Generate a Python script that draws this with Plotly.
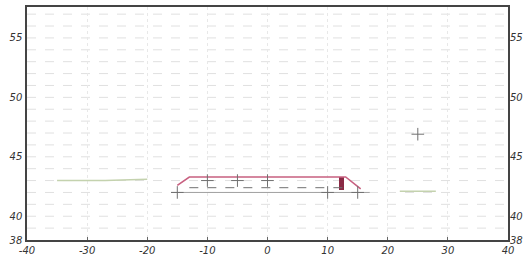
import plotly.graph_objects as go

# Data
red_x = [-15.0, -13.0, 13.0, 15.5]
red_y = [42.6, 43.3, 43.3, 42.3]
dash_x = [-13.0, 13.0]
dash_y = [42.4, 42.4]
grey_x = [-16.0, 17.0]
grey_y = [42.0, 42.0]
green_left_x = [-35.0, -27.0, -20.0]
green_left_y = [43.0, 43.0, 43.1]
green_right_x = [22.0, 28.0]
green_right_y = [42.1, 42.1]
cross_x = [-15.0, -10.0, -5.0, 0.0, 10.0, 15.0, 25.0]
cross_y = [42.0, 43.0, 43.0, 43.0, 42.0, 42.0, 46.9]
bar_x = [12.3]
bar_base = [42.2]
bar_h = [1.1]
x_ticks = [-40, -30, -20, -10, 0, 10, 20, 30, 40]
y_ticks = [38, 40, 45, 50, 55]

fig = go.Figure()
fig.add_trace(go.Scatter(x=green_left_x, y=green_left_y, mode="lines",
                         line=dict(color="#c4d2ae", width=1.5), showlegend=False))
fig.add_trace(go.Scatter(x=green_right_x, y=green_right_y, mode="lines",
                         line=dict(color="#c4d2ae", width=1.5), showlegend=False))
fig.add_trace(go.Scatter(x=grey_x, y=grey_y, mode="lines",
                         line=dict(color="#a0a0a0", width=1), showlegend=False))
fig.add_trace(go.Scatter(x=dash_x, y=dash_y, mode="lines",
                         line=dict(color="#707070", width=1, dash="dash"), showlegend=False))
fig.add_trace(go.Scatter(x=red_x, y=red_y, mode="lines",
                         line=dict(color="#c86080", width=1.6), showlegend=False))
fig.add_trace(go.Bar(x=bar_x, y=bar_h, base=bar_base, width=0.8,
                     marker=dict(color="#8a2a45", line=dict(width=0)), showlegend=False))
fig.add_trace(go.Scatter(x=cross_x, y=cross_y, mode="markers",
                         marker=dict(symbol="cross-thin", size=9, line=dict(color="#707070", width=1)),
                         showlegend=False))
# right-side y axis duplicate
fig.add_trace(go.Scatter(x=[None], y=[None], yaxis="y2", showlegend=False))

tickfont = dict(family="DejaVu Sans", size=10, color="#333333")
fig.update_layout(
    width=531, height=261,
    margin=dict(l=27, r=23, t=5, b=17),
    paper_bgcolor="white", plot_bgcolor="white",
    xaxis=dict(range=[-40, 40], tickvals=x_ticks, ticktext=[f"<i>{v}</i>" for v in x_ticks],
               showgrid=True, gridcolor="#e8e8e8", griddash="dot", gridwidth=1,
               zeroline=False, showline=True, linecolor="#444444", linewidth=1.5, mirror=True,
               ticks="inside", ticklen=3, tickcolor="#666666", tickfont=tickfont),
    yaxis=dict(range=[38, 57.6], tickvals=y_ticks, ticktext=[f"<i>{v}</i>" for v in y_ticks],
               showgrid=False, zeroline=False, showline=True, linecolor="#444444", linewidth=1.5,
               mirror=True, ticks="", tickfont=tickfont, ticklabelstandoff=1),
    yaxis2=dict(range=[38, 57.6], overlaying="y", side="right", tickvals=y_ticks,
                ticktext=[f"<i>{v}</i>" for v in y_ticks], showgrid=False, zeroline=False,
                showline=False, tickfont=tickfont, ticklabelstandoff=1),
    bargap=0,
)
# faint horizontal graph-paper lines every unit
for v in range(39, 58):
    fig.add_hline(y=v, line=dict(color="#e0e0e0", width=1, dash="dash"), layer="below")

fig.write_html("out.html", config={"displayModeBar": False},
               post_script="document.body.style.margin='0px';")
